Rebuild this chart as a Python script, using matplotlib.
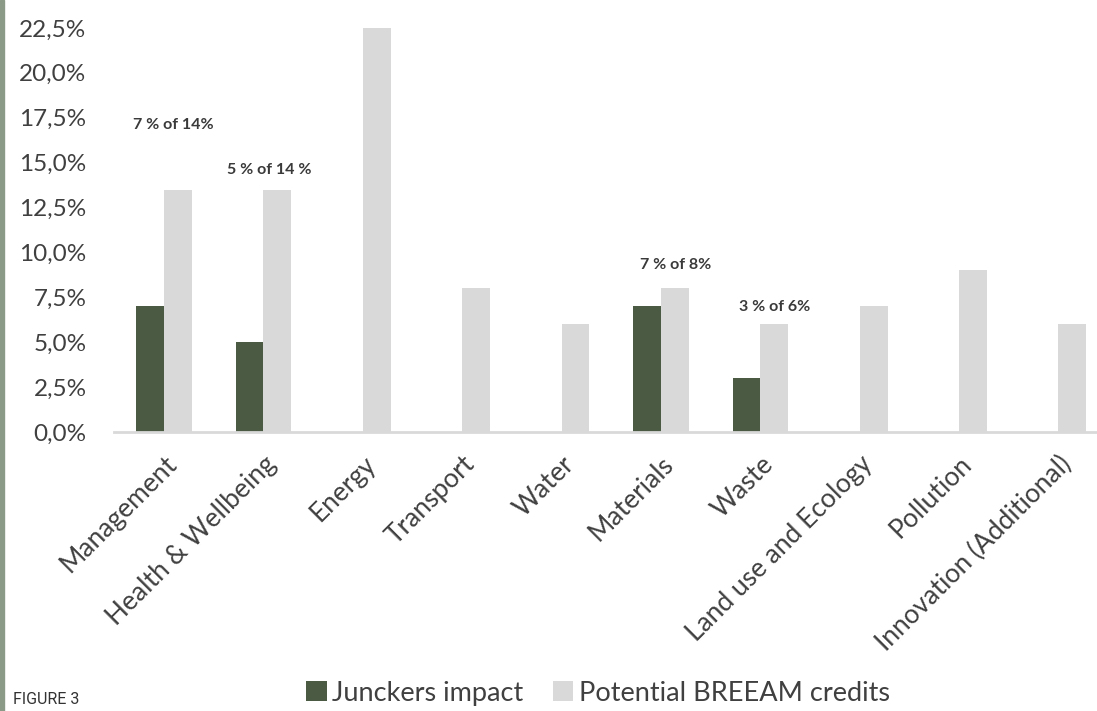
import matplotlib.pyplot as plt
import numpy as np
from matplotlib.patches import Rectangle

categories = ["Management", "Health & Wellbeing", "Energy", "Transport", "Water",
              "Materials", "Waste", "Land use and Ecology", "Pollution",
              "Innovation (Additional)"]
junckers = [7, 5, 0, 0, 0, 7, 3, 0, 0, 0]
breeam = [13.5, 13.5, 22.5, 8, 6, 8, 6, 7, 9, 6]
yticks = [0, 2.5, 5, 7.5, 10, 12.5, 15, 17.5, 20, 22.5]

# notes above the bars: (category index, x offset, height, text)
notes = [(0, 0.09, 17.1, "7 % of 14%"),
         (1, 0.06, 14.6, "5 % of 14 %"),
         (5, 0.15, 9.3, "7 % of 8%"),
         (6, 0.14, 6.95, "3 % of 6%")]

dark = "#4b5a42"
light = "#d9d9d9"
txt = "#404040"

fig = plt.figure(figsize=(10.97, 7.11), dpi=100)
ax = fig.add_axes([0.1042, 0.3924, 0.906, 0.5683])

x = np.arange(len(categories))
w = 0.28
ax.bar(x - w / 2, junckers, w, color=dark, label="Junckers impact")
ax.bar(x + w / 2, breeam, w, color=light, label="Potential BREEAM credits")

ax.set_xlim(-0.5, len(categories) - 0.5)
ax.set_ylim(0, 22.5)
ax.set_yticks(yticks)
ax.set_yticklabels([f"{v:.1f}%".replace(".", ",") for v in yticks],
                   fontsize=17.5, color=txt, family="Lato")
ax.tick_params(axis="y", length=0, pad=20)
ax.tick_params(axis="x", length=0, pad=14)
ax.set_xticks(x)
ax.set_xticklabels(categories, rotation=45, ha="right", va="top",
                   rotation_mode="anchor", fontsize=19, color=txt, family="Lato")

for s in ["top", "right", "left"]:
    ax.spines[s].set_visible(False)
ax.spines["bottom"].set_color(light)
ax.spines["bottom"].set_linewidth(2)

for i, dx, h, t in notes:
    ax.text(i + dx, h, t, ha="center", va="center", fontsize=11.5,
            color="#3a3a3a", family="Lato", fontweight="bold")

fig.legend(loc="lower left", bbox_to_anchor=(0.257, -0.027), ncol=2,
           frameon=False, handlelength=0.75, handleheight=0.75,
           handletextpad=0.2, columnspacing=1.1, labelcolor=txt,
           prop={"family": "Lato", "size": 19.5})

fig.text(0.012, 0.006, "FIGURE 3", fontsize=11.5, color="#333333",
         family="Roboto", ha="left", va="bottom")

fig.patches.append(Rectangle((0, 0), 0.0035, 1, transform=fig.transFigure,
                             color="#8b9a86", zorder=5))

fig.savefig("out.png", dpi=100)
